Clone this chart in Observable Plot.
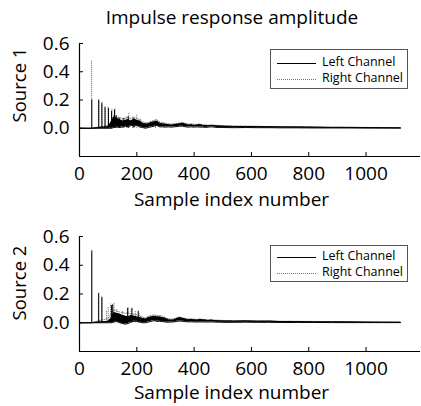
<!DOCTYPE html>
<html>
<head>
<meta charset="utf-8">
<script src="https://cdn.jsdelivr.net/npm/d3@7"></script>
<script src="https://cdn.jsdelivr.net/npm/@observablehq/plot@0.6"></script>
<style>
  html, body { margin: 0; padding: 0; background: white; overflow: hidden; }
  #wrap { position: relative; width: 421px; height: 406px; font-family: "Open Sans", sans-serif; color: black; }
  .abs { position: absolute; white-space: nowrap; line-height: 1; }
  .legend { position: absolute; border: 1px solid #555; box-sizing: border-box; background: white; }
  .legend .row { position: absolute; left: 0; width: 100%; height: 0; }
  .legend .sw { position: absolute; left: 6px; width: 39px; top: 0; }
  .legend .txt { position: absolute; left: 51px; top: -9px; font-size: 12.5px; line-height: 16px; }
</style>
</head>
<body>
<div id="wrap"></div>
<script>
// ---- data ----
const title = "Impulse response amplitude";
const xLabel = "Sample index number";
const panelLabels = ["Source 1", "Source 2"];
const seriesNames = ["Left Channel", "Right Channel"];
const xTicks = [0, 200, 400, 600, 800, 1000];
const yTicks = [0, 0.2, 0.4, 0.6];

// envelope grid (sample index)
const envX = [0, 40, 100, 110, 120, 130, 140, 150, 160, 170, 180, 190, 200, 210, 220, 230, 240, 250, 260, 270, 280, 290, 300, 310, 320, 330, 340, 350, 360, 370, 380, 390, 400, 410, 420, 430, 440, 450, 460, 470, 480, 490, 500, 540, 580, 620, 660, 700, 760, 820, 880, 940, 1000, 1060, 1120];

// Source 1
const s1LeftSpikeX = [43, 67, 78, 89, 101, 112, 122, 128, 140, 155, 170, 190];
const s1LeftSpikeY = [0.20, 0.20, 0.18, 0.15, 0.14, 0.12, 0.13, 0.09, 0.07, 0.07, 0.08, 0.07];
const s1RightSpikeX = [42, 68, 79, 90, 100, 113, 124, 135, 150, 165, 172, 185, 200, 212, 265];
const s1RightSpikeY = [0.48, 0.19, 0.17, 0.14, 0.15, 0.14, 0.14, 0.08, 0.07, 0.08, 0.11, 0.08, 0.10, 0.07, 0.06];
const s1LeftHi = [0, 0, 0.01, 0.04, 0.08, 0.07, 0.06, 0.05, 0.055, 0.06, 0.05, 0.065, 0.055, 0.05, 0.035, 0.03, 0.03, 0.04, 0.045, 0.05, 0.035, 0.03, 0.028, 0.025, 0.022, 0.025, 0.028, 0.03, 0.035, 0.028, 0.022, 0.025, 0.02, 0.022, 0.025, 0.02, 0.018, 0.017, 0.02, 0.018, 0.016, 0.015, 0.014, 0.012, 0.012, 0.011, 0.010, 0.009, 0.008, 0.007, 0.006, 0.006, 0.005, 0.004, 0.003];
const s1LeftLo = [0, 0, 0, 0, 0.005, 0.01, 0.005, 0.01, 0.015, 0.01, 0.02, 0.015, 0.02, 0.01, 0.005, 0, 0.005, 0.01, 0.015, 0.02, 0.01, 0.01, 0.008, 0.01, 0.008, 0.01, 0.012, 0.015, 0.015, 0.01, 0.008, 0.01, 0.008, 0.01, 0.008, 0.008, 0.006, 0.008, 0.01, 0.008, 0.006, 0.006, 0.005, 0.004, 0.005, 0.004, 0.004, 0.003, 0.003, 0.002, 0.002, 0.002, 0.001, 0.001, 0.001];
const s1RightHi = [0, 0, 0.02, 0.05, 0.09, 0.08, 0.075, 0.07, 0.07, 0.08, 0.065, 0.08, 0.07, 0.06, 0.045, 0.04, 0.04, 0.05, 0.055, 0.06, 0.045, 0.04, 0.035, 0.03, 0.03, 0.032, 0.035, 0.038, 0.04, 0.034, 0.03, 0.03, 0.028, 0.028, 0.03, 0.025, 0.024, 0.022, 0.024, 0.022, 0.02, 0.02, 0.018, 0.016, 0.015, 0.014, 0.012, 0.011, 0.010, 0.009, 0.008, 0.007, 0.006, 0.005, 0.004];

// Source 2
const s2LeftSpikeX = [43, 67, 78, 112, 116, 168, 183, 205];
const s2LeftSpikeY = [0.50, 0.205, 0.177, 0.12, 0.125, 0.10, 0.10, 0.08];
const s2RightSpikeX = [42, 66, 79, 94, 100, 108, 120, 130, 150, 170, 180, 195, 210];
const s2RightSpikeY = [0.48, 0.19, 0.17, 0.085, 0.11, 0.13, 0.14, 0.09, 0.08, 0.11, 0.09, 0.08, 0.07];
const s2LeftHi = [0, 0, 0.01, 0.03, 0.07, 0.065, 0.06, 0.05, 0.045, 0.04, 0.05, 0.045, 0.04, 0.035, 0.03, 0.025, 0.035, 0.04, 0.045, 0.04, 0.04, 0.035, 0.03, 0.02, 0.018, 0.02, 0.03, 0.035, 0.03, 0.025, 0.02, 0.022, 0.02, 0.018, 0.022, 0.02, 0.018, 0.016, 0.018, 0.015, 0.014, 0.013, 0.012, 0.011, 0.012, 0.01, 0.011, 0.008, 0.007, 0.006, 0.006, 0.005, 0.004, 0.003, 0.003];
const s2LeftLo = [0, 0, 0, 0, 0.005, 0.01, 0, -0.005, -0.01, -0.005, 0.005, 0.01, 0.01, 0.005, 0, 0, 0.005, 0.01, 0.015, 0.01, 0.01, 0.008, 0.005, 0.004, 0.005, 0.006, 0.01, 0.012, 0.01, 0.008, 0.006, 0.007, 0.006, 0.005, 0.006, 0.006, 0.005, 0.005, 0.006, 0.005, 0.004, 0.004, 0.003, 0.003, 0.004, 0.003, 0.003, 0.002, 0.002, 0.002, 0.001, 0.001, 0.001, 0.001, 0.001];
const s2RightHi = [0, 0, 0.03, 0.06, 0.09, 0.08, 0.075, 0.07, 0.065, 0.07, 0.06, 0.06, 0.055, 0.045, 0.04, 0.035, 0.045, 0.05, 0.055, 0.05, 0.05, 0.045, 0.035, 0.028, 0.025, 0.028, 0.035, 0.04, 0.035, 0.03, 0.026, 0.028, 0.025, 0.024, 0.026, 0.024, 0.022, 0.02, 0.022, 0.019, 0.018, 0.017, 0.016, 0.015, 0.015, 0.013, 0.013, 0.011, 0.01, 0.009, 0.008, 0.007, 0.006, 0.005, 0.004];

// ---- build ----
const zip = (xs, ys) => xs.map((x, i) => ({x, y: ys[i]}));

function panel({height, marginTop, marginBottom, spL, spR, hiL, loL, hiR}) {
  const env = envX.map((x, i) => ({x, hiL: hiL[i], loL: loL[i], hiR: hiR[i]}));
  return Plot.plot({
    width: 421, height, marginTop, marginBottom, marginLeft: 79, marginRight: 1,
    style: {background: "transparent", fontFamily: "Open Sans", fontSize: "19px", color: "black", overflow: "visible"},
    x: {domain: [0, 1190]},
    y: {domain: [-0.2, 0.6]},
    marks: [
      Plot.line(env, {x: "x", y: "hiR", stroke: "#777", strokeWidth: 1, strokeDasharray: "1,1.5"}),
      Plot.ruleX(spR, {x: "x", y1: 0, y2: "y", stroke: "#666", strokeWidth: 1, strokeDasharray: "1,1"}),
      Plot.areaY(env, {x: "x", y1: "loL", y2: "hiL", fill: "black"}),
      Plot.line(env, {x: "x", y: "hiL", stroke: "black", strokeWidth: 1}),
      Plot.line(env, {x: "x", y: "loL", stroke: "black", strokeWidth: 1}),
      Plot.ruleX(spL, {x: "x", y1: 0, y2: "y", stroke: "black", strokeWidth: 1}),
      Plot.ruleY([-0.2], {stroke: "black", strokeWidth: 1.2}),
      Plot.ruleX([0], {stroke: "black", strokeWidth: 1.2}),
      Plot.axisX({ticks: xTicks, tickSize: -4, text: null, label: null}),
      Plot.axisX({ticks: xTicks, tickSize: 0, tickPadding: 10, tickFormat: d3.format("d"), label: null, fontSize: 19}),
      Plot.axisY({ticks: yTicks, tickSize: -4, text: null, label: null}),
      Plot.axisY({ticks: yTicks, tickSize: 0, tickPadding: 10, tickFormat: d3.format(".1f"), label: null, fontSize: 19})
    ]
  });
}

const wrap = document.getElementById("wrap");
function place(el, left, top) {
  el.style.position = "absolute"; el.style.left = left + "px"; el.style.top = top + "px";
  wrap.appendChild(el);
}

const p1 = panel({height: 200, marginTop: 43, marginBottom: 44,
  spL: zip(s1LeftSpikeX, s1LeftSpikeY), spR: zip(s1RightSpikeX, s1RightSpikeY),
  hiL: s1LeftHi, loL: s1LeftLo, hiR: s1RightHi});
place(p1, 0, 0);
const p2 = panel({height: 205, marginTop: 36, marginBottom: 54,
  spL: zip(s2LeftSpikeX, s2LeftSpikeY), spR: zip(s2RightSpikeX, s2RightSpikeY),
  hiL: s2LeftHi, loL: s2LeftLo, hiR: s2RightHi});
place(p2, 0, 200);

function text(str, cx, top, size, rotate) {
  const d = document.createElement("div");
  d.className = "abs";
  d.textContent = str;
  d.style.fontSize = size + "px";
  d.style.left = cx + "px";
  d.style.top = top + "px";
  d.style.transform = rotate ? "translate(-50%,-50%) rotate(-90deg)" : "translateX(-50%)";
  wrap.appendChild(d);
}
text(title, 232, 8, 19);
text(xLabel, 231.5, 190, 19);
text(xLabel, 231.5, 383, 19);
text(panelLabels[0], 19, 85, 18.5, true);
text(panelLabels[1], 19, 283, 18.5, true);

function legend(left, top, w, h, rowYs) {
  const box = document.createElement("div");
  box.className = "legend";
  box.style.left = left + "px"; box.style.top = top + "px";
  box.style.width = w + "px"; box.style.height = h + "px";
  seriesNames.forEach((name, i) => {
    const row = document.createElement("div");
    row.className = "row";
    row.style.top = rowYs[i] + "px";
    const sw = document.createElement("div");
    sw.className = "sw";
    sw.style.borderTop = i === 0 ? "1px solid black" : "1px dotted #777";
    const t = document.createElement("div");
    t.className = "txt";
    t.textContent = name;
    row.appendChild(sw); row.appendChild(t);
    box.appendChild(row);
  });
  wrap.appendChild(box);
}
legend(270, 49, 138, 40, [13, 29]);
legend(270, 245, 138, 37, [11, 27]);
</script>
</body>
</html>
